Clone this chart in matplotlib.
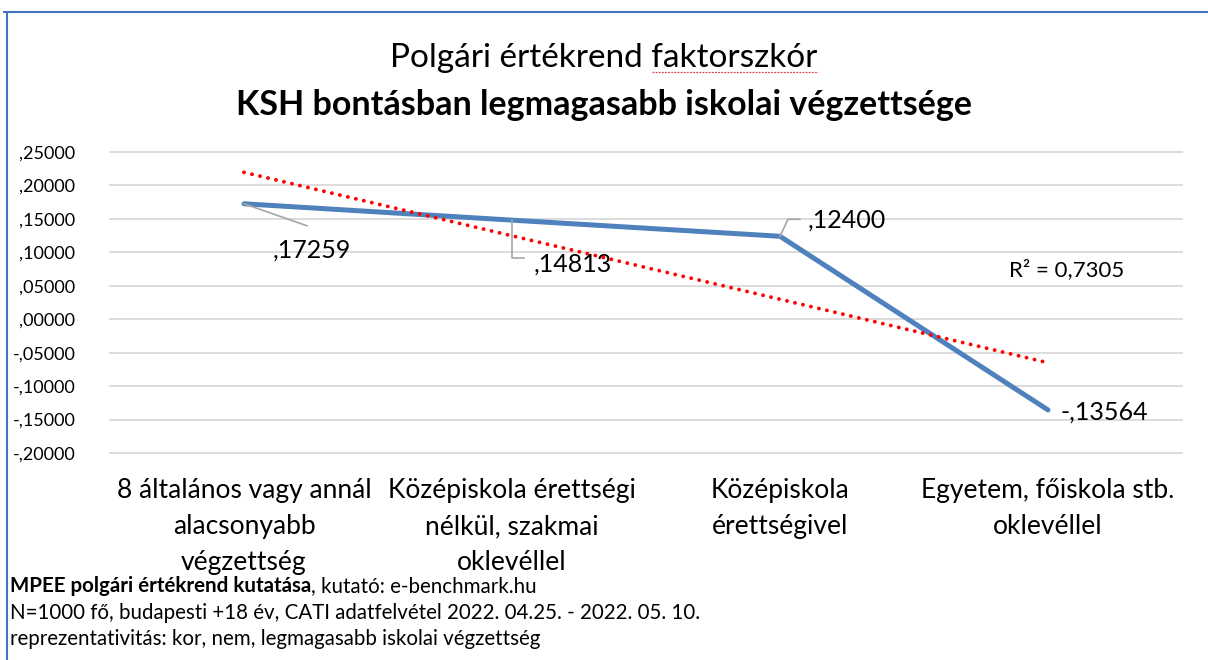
import numpy as np
import matplotlib.pyplot as plt
from matplotlib.lines import Line2D

plt.rcParams['font.family'] = ['Lato', 'DejaVu Sans']

# adatok
categories = ['8 általános vagy annál\nalacsonyabb\nvégzettség',
              'Középiskola érettségi\nnélkül, szakmai\noklevéllel',
              'Középiskola\nérettségivel',
              'Egyetem, főiskola stb.\noklevéllel']
values = [0.17259, 0.14813, 0.12400, -0.13564]
value_labels = [',17259', ',14813', ',12400', '-,13564']
yticks = [0.25, 0.20, 0.15, 0.10, 0.05, 0.0, -0.05, -0.10, -0.15, -0.20]

W, H = 1208, 660
fig = plt.figure(figsize=(W / 100, H / 100), dpi=100)

# plot terület pixelben
left, right, top, bottom = 110, 1182, 152, 453
ax = fig.add_axes([left / W, 1 - bottom / H, (right - left) / W, (bottom - top) / H])
ax.set_xlim(-0.5, 3.5)
ax.set_ylim(-0.20, 0.25)
for s in ax.spines.values():
    s.set_visible(False)

for t in yticks:
    ax.axhline(t, color='#d9d9d9', lw=1.3, zorder=0, clip_on=False)

def fmt(v):
    # SPSS stílus: ,25000 / -,05000
    return f'{v:.5f}'.replace('0.', '.', 1).replace('.', ',')

ax.set_yticks(yticks)
ax.set_yticklabels([fmt(t) for t in yticks], fontsize=13)
ax.tick_params(axis='y', length=0, pad=25)

x = np.arange(len(values))
ax.set_xticks(x)
ax.set_xticklabels(categories, fontsize=19, linespacing=1.55)
ax.tick_params(axis='x', length=0, pad=18)

# vonal
ax.plot(x, values, color='#4f81bd', lw=3.6, solid_capstyle='round', zorder=3)

# lineáris trendvonal
coef = np.polyfit(x, values, 1)
trend = np.polyval(coef, x)
ax.plot(x, trend, color='#ff0000', lw=2.8, linestyle=(0, (0.01, 2.1)),
        dash_capstyle='round', zorder=4)
vals = np.array(values)
r2 = 1 - np.sum((vals - trend) ** 2) / np.sum((vals - vals.mean()) ** 2)
ax.text(3.07, 0.074, f'R² = {r2:.4f}'.replace('.', ','), fontsize=16,
        ha='center', va='center')

# adatcímkék (eltolás pixelben a ponttól)
label_off = [(68, -46), (61, -44), (67, 16), (56, -2)]
leaders = [[(0, 0), (63, -22)],
           [(0, 0), (0, -38), (12, -38)],
           [(0, 0), (8, 17), (20, 17)],
           None]
for i, (v, lab) in enumerate(zip(values, value_labels)):
    dx, dy = label_off[i]
    ax.annotate(lab, (i, v), xytext=(dx * 0.72, dy * 0.72), textcoords='offset points',
                fontsize=18, ha='center', va='center')
    if leaders[i]:
        bx, by = ax.transData.transform((i, v))
        fig.lines.append(Line2D([bx + p[0] for p in leaders[i]],
                                [by + p[1] for p in leaders[i]],
                                color='#a6a6a6', lw=1.2, transform=None, zorder=5))

# cím
t_title = fig.text(0.5, 1 - 58 / H, 'Polgári értékrend faktorszkór', fontsize=24,
                   ha='center', va='center')
fig.text(0.5, 1 - 105 / H, 'KSH bontásban legmagasabb iskolai végzettsége',
         fontsize=24.5, fontweight='bold', ha='center', va='center')

# lábjegyzet
fs = 14.8
t1 = fig.text(10 / W, 1 - 586 / H, 'MPEE polgári értékrend kutatása', fontsize=fs,
              fontweight='bold', ha='left', va='center')
fig.canvas.draw()
rend = fig.canvas.get_renderer()
bb = t1.get_window_extent(renderer=rend)
fig.text(bb.x1 / W, 1 - 586 / H, ', kutató: e-benchmark.hu', fontsize=fs,
         ha='left', va='center')
fig.text(10 / W, 1 - 613 / H,
         'N=1000 fő, budapesti +18 év, CATI adatfelvétel 2022. 04.25. - 2022. 05. 10.',
         fontsize=fs, ha='left', va='center')
fig.text(10 / W, 1 - 639 / H,
         'reprezentativitás: kor, nem, legmagasabb iskolai végzettség',
         fontsize=fs, ha='left', va='center')

# helyesírás-ellenőrző aláhúzás a "faktorszkór" alatt
tb = t_title.get_window_extent(renderer=rend)
tmp = fig.text(0, 0, 'faktorszkór', fontsize=24)
wb = tmp.get_window_extent(renderer=rend)
tmp.remove()
fig.lines.append(Line2D([tb.x1 - wb.width, tb.x1], [tb.y0 + 1, tb.y0 + 1],
                        color='#e04040', lw=0.9, linestyle=(0, (1.5, 1.0)),
                        transform=None))

# keret
fig.add_artist(Line2D([4 / W, 1], [1 - 12 / H, 1 - 12 / H], color='#4472c4', lw=1.5))
fig.add_artist(Line2D([7 / W, 7 / W], [1 - 12 / H, 0], color='#4472c4', lw=1.5))

fig.savefig('out.png', dpi=100)
